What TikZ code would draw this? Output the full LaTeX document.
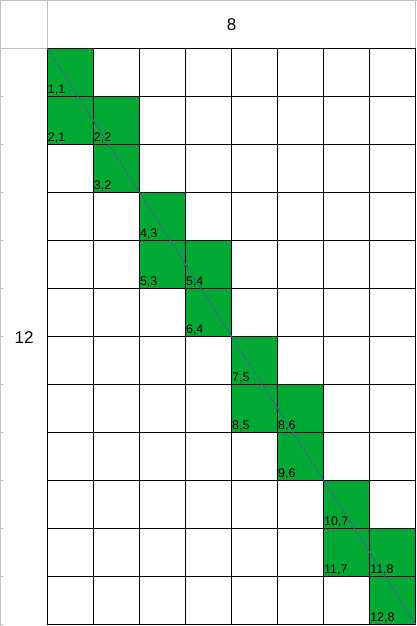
\documentclass[tikz,border=0pt]{standalone}
\usepackage{fontspec}
\setmainfont{Liberation Sans}
\definecolor{cellgreen}{HTML}{00A933}
\definecolor{diagblue}{HTML}{3A6B8C}
\definecolor{hdrgray}{HTML}{C0C0C0}
\begin{document}
\begin{tikzpicture}[x=1pt,y=-1pt,
  gridline/.style={black,line width=1.2pt},
  grayline/.style={hdrgray,line width=1pt},
  lbl/.style={anchor=base west,inner sep=0pt,font=\fontsize{12.5}{14}\selectfont},
  hdr/.style={inner sep=0pt,font=\fontsize{17}{20}\selectfont},
  diagline/.style={diagblue,line width=0.9pt}]
\useasboundingbox (0,0) rectangle (417,626);
\fill[white] (0,0) rectangle (417,626);
\def\gx{47.3}\def\gy{48.3}\def\cw{46.05}\def\rh{48}
% green cells and labels
\foreach \r/\c in {1/1,2/1,2/2,3/2,4/3,5/3,5/4,6/4,7/5,8/5,8/6,9/6,10/7,11/7,11/8,12/8}{
  \fill[cellgreen] ({\gx+(\c-1)*\cw},{\gy+(\r-1)*\rh}) rectangle ++(\cw,\rh);
  \node[lbl] (l\r-\c) at ({\gx+(\c-1)*\cw+0.4},{\gy+\r*\rh-3.2}) {\r,\c};
}
% gray header lines
\draw[grayline] (0.8,0) -- (0.8,626);
\draw[grayline] (0,0.5) -- (416.5,0.5);
\draw[grayline] (\gx,0) -- (\gx,\gy);
\draw[grayline] (415.7,0) -- (415.7,\gy);
\draw[grayline] (0,\gy) -- (\gx,\gy);
\foreach \j in {1,...,12}{
  \draw[grayline] (0,{\gy+\j*\rh}) -- (3,{\gy+\j*\rh});
}
% black grid
\foreach \i in {0,...,8}{
  \draw[gridline] ({\gx+\i*\cw},\gy) -- ({\gx+\i*\cw},{\gy+12*\rh});
}
\foreach \j in {0,...,12}{
  \draw[gridline] (\gx,{\gy+\j*\rh}) -- ({\gx+8*\cw},{\gy+\j*\rh});
}
% headers
\node[hdr] (colcount) at (231.7,24.5) {8};
\node[hdr] (rowcount) at (24.2,337.5) {12};
% diagonal
\coordinate (gtl) at (\gx,\gy);
\coordinate (gbr) at ({\gx+8*\cw},{\gy+12*\rh});
\draw[diagline] (gtl) -- (gbr);
\end{tikzpicture}
\end{document}
